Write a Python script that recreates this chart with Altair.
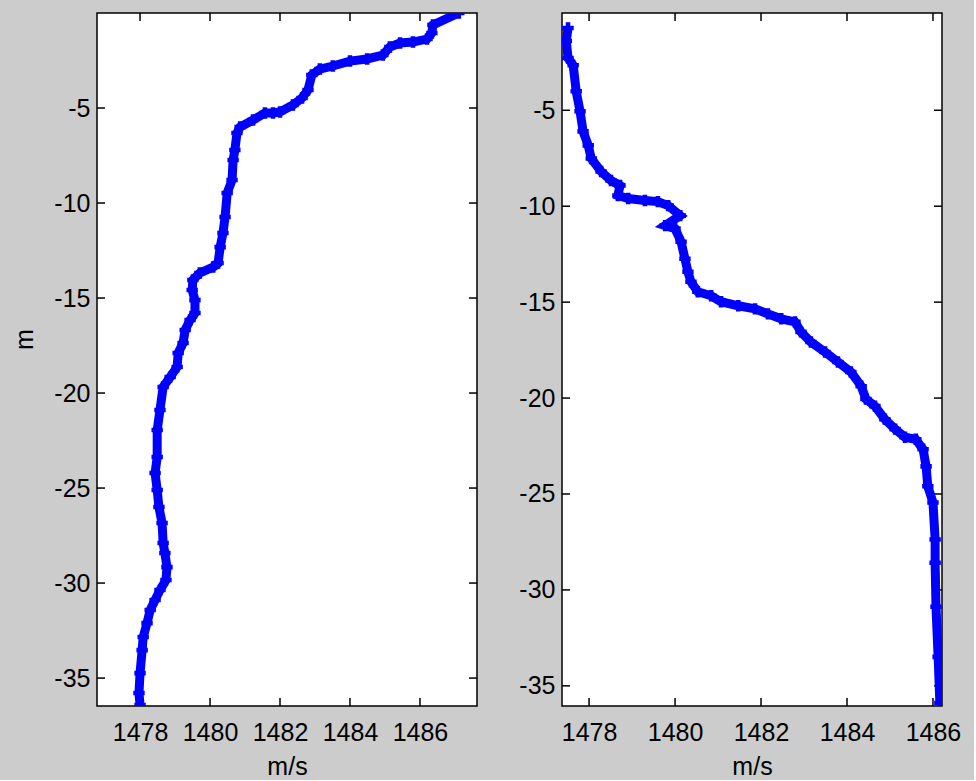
import altair as alt
import pandas as pd

# Left profile (sound speed m/s vs depth m)
left_speed = [1487.11, 1486.37, 1486.34, 1486.20, 1485.80, 1485.43, 1485.14, 1484.94, 1484.49, 1484.00,
              1483.51, 1483.14, 1482.91, 1482.80, 1482.63, 1482.37, 1482.00, 1481.80, 1481.57, 1481.23,
              1480.86, 1480.77, 1480.71, 1480.66, 1480.63, 1480.49, 1480.43, 1480.37, 1480.29, 1480.23,
              1480.09, 1479.71, 1479.51, 1479.49, 1479.57, 1479.57, 1479.43, 1479.29, 1479.23, 1479.09,
              1479.06, 1478.86, 1478.66, 1478.57, 1478.49, 1478.49, 1478.43, 1478.49, 1478.54, 1478.63,
              1478.66, 1478.71, 1478.77, 1478.74, 1478.57, 1478.43, 1478.29, 1478.20, 1478.09, 1478.06,
              1478.00, 1477.97, 1478.00]
left_depth = [0.00, -0.63, -1.05, -1.37, -1.53, -1.58, -1.79, -2.21, -2.42, -2.53,
              -2.79, -2.95, -3.26, -4.05, -4.47, -4.84, -5.21, -5.26, -5.26, -5.63,
              -6.00, -6.32, -7.21, -7.74, -8.79, -9.47, -10.74, -11.58, -12.32, -13.16,
              -13.37, -13.68, -14.05, -14.58, -15.11, -15.79, -16.16, -16.68, -17.37, -17.89,
              -18.63, -19.16, -19.68, -20.89, -21.95, -23.37, -24.21, -25.10, -26.00, -26.84,
              -27.89, -28.42, -29.16, -29.84, -30.37, -30.89, -31.42, -32.11, -32.84, -33.53,
              -34.74, -35.79, -36.42]

# Right profile
right_speed = [1477.51, 1477.47, 1477.51, 1477.63, 1477.70, 1477.79, 1477.86, 1477.98, 1478.05, 1478.28,
               1478.51, 1478.72, 1478.67, 1478.91, 1479.30, 1479.60, 1479.84, 1480.12, 1479.77, 1480.00,
               1480.14, 1480.23, 1480.30, 1480.37, 1480.53, 1480.84, 1481.07, 1481.47, 1481.86, 1482.16,
               1482.47, 1482.79, 1482.93, 1483.16, 1483.49, 1483.79, 1484.09, 1484.33, 1484.44, 1484.65,
               1484.88, 1485.12, 1485.35, 1485.60, 1485.77, 1485.84, 1485.88, 1486.00, 1486.05, 1486.05,
               1486.07, 1486.12, 1486.16]
right_depth = [-0.71, -1.39, -2.28, -2.65, -4.01, -5.05, -6.10, -6.83, -7.51, -8.19,
               -8.66, -8.92, -9.44, -9.60, -9.70, -9.76, -9.97, -10.49, -11.01, -11.17,
               -11.85, -12.74, -13.42, -13.94, -14.46, -14.67, -14.98, -15.19, -15.35, -15.61,
               -15.87, -16.03, -16.55, -17.08, -17.60, -18.12, -18.64, -19.38, -20.05, -20.42,
               -21.10, -21.62, -22.04, -22.15, -22.67, -23.56, -24.60, -25.44, -27.37, -28.58,
               -30.88, -33.49, -35.89]

x_ticks = [1478, 1480, 1482, 1484, 1486]
y_ticks = [-35, -30, -25, -20, -15, -10, -5]

W, H = 380, 693
FONT = "Liberation Sans"
FS = 25
BLUE = "#0000ff"
TL = 8
LABEL = "'' + datum.value"


def panel(speed, depth, xdom, ydom, ytitle):
    df = pd.DataFrame({"speed": speed, "depth": depth, "i": list(range(len(speed)))})
    xt = pd.DataFrame({"v": x_ticks})
    yt = pd.DataFrame({"v": y_ticks})
    xs = alt.Scale(domain=xdom, nice=False, zero=False)
    ys = alt.Scale(domain=ydom, nice=False, zero=False)
    common = dict(values=y_ticks, ticks=False, domain=False, grid=False, labelExpr=LABEL,
                  labelFont=FONT, labelFontSize=FS, labelColor="#000", labelPadding=7)
    if ytitle:
        yaxis = alt.Axis(title=ytitle, titleFont=FONT, titleFontSize=FS, titleFontWeight="normal",
                         titleColor="#000", titlePadding=16, titleY=326, **common)
    else:
        yaxis = alt.Axis(title=None, **common)
    xaxis = alt.Axis(values=x_ticks, ticks=False, domain=False, grid=False, labelExpr=LABEL,
                     labelFont=FONT, labelFontSize=FS, labelColor="#000", labelPadding=14,
                     title="m/s", titleFont=FONT, titleFontSize=FS, titleFontWeight="normal",
                     titleColor="#000", titlePadding=9)
    line = alt.Chart(df).mark_line(color=BLUE, strokeWidth=9, clip=True).encode(
        x=alt.X("speed:Q", scale=xs, axis=xaxis),
        y=alt.Y("depth:Q", scale=ys, axis=yaxis),
        order="i:Q",
    )
    pts = alt.Chart(df).mark_point(shape="cross", filled=True, color=BLUE, size=130, opacity=1, clip=True).encode(
        x=alt.X("speed:Q", scale=xs), y=alt.Y("depth:Q", scale=ys)
    )
    yl = alt.Chart(yt).mark_rule(color="#000", strokeWidth=1.5).encode(
        y=alt.Y("v:Q", scale=ys), x=alt.value(0), x2=alt.value(TL))
    yr = alt.Chart(yt).mark_rule(color="#000", strokeWidth=1.5).encode(
        y=alt.Y("v:Q", scale=ys), x=alt.value(W - TL), x2=alt.value(W))
    xb = alt.Chart(xt).mark_rule(color="#000", strokeWidth=1.5).encode(
        x=alt.X("v:Q", scale=xs), y=alt.value(H - TL), y2=alt.value(H))
    xtp = alt.Chart(xt).mark_rule(color="#000", strokeWidth=1.5).encode(
        x=alt.X("v:Q", scale=xs), y=alt.value(0), y2=alt.value(TL))
    return alt.layer(yl, yr, xb, xtp, line, pts).properties(width=W, height=H)


left = panel(left_speed, left_depth, [1476.77, 1487.63], [-36.47, 0.0], "m")
right = panel(right_speed, right_depth, [1477.37, 1486.21], [-36.05, 0.07], None)

chart = alt.hconcat(left, right, spacing=39).properties(
    background="#cccccc",
    padding={"left": 12, "top": 11, "right": 12, "bottom": 0},
).configure_view(stroke="#000", strokeWidth=1.5, fill="white")

chart.save("out.html", embed_options={"renderer": "svg", "actions": False})
